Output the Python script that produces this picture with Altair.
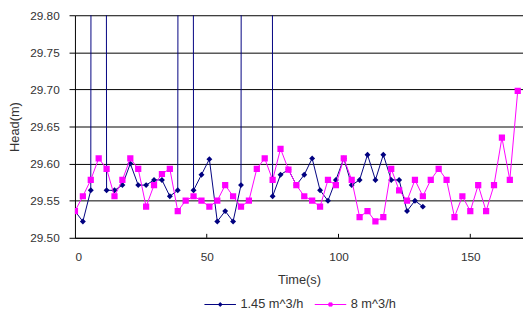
import altair as alt
import pandas as pd

# ---- data ----
series_names = ["1.45 m^3/h", "8 m^3/h"]
series_colors = ["#000080", "#FF00FF"]

# 1.45 m^3/h (navy diamonds); off-chart readings (spikes) given as large values
blue_t = [0, 3, 6, 9, 12, 15, 18, 21, 24, 27, 30, 33, 36, 39, 42, 45, 48, 51, 54,
          57, 60, 63, 66, 69, 72, 75, 78, 81, 84, 87, 90, 93, 96, 99, 102, 105,
          108, 111, 114, 117, 120, 123, 126, 129, 132]
blue_v = [29.536, 29.522, 29.564, 40.0, 29.564, 29.564, 29.571, 29.600, 29.571,
          29.571, 29.578, 29.578, 29.556, 29.564, 40.0, 29.564, 29.585, 29.606,
          29.522, 29.536, 29.522, 29.571, 40.0, 40.0, 40.0, 29.556, 29.585,
          29.592, 29.571, 29.585, 29.607, 29.564, 29.550, 29.578, 29.607, 29.571,
          29.578, 29.612, 29.578, 29.612, 29.578, 29.578, 29.536, 29.550, 29.542]

# 8 m^3/h (magenta squares)
pink_t = [0, 3, 6, 9, 12, 15, 18, 21, 24, 27, 30, 33, 36, 39, 42, 45, 48, 51, 54,
          57, 60, 63, 66, 69, 72, 75, 78, 81, 84, 87, 90, 93, 96, 99, 102, 105,
          108, 111, 114, 117, 120, 123, 126, 129, 132, 135, 138, 141, 144, 147,
          150, 153, 156, 159, 162, 165, 168]
pink_v = [29.536, 29.556, 29.578, 29.607, 29.593, 29.556, 29.578, 29.607, 29.593,
          29.542, 29.571, 29.586, 29.593, 29.536, 29.550, 29.556, 29.550, 29.542,
          29.550, 29.571, 29.556, 29.542, 29.550, 29.593, 29.607, 29.578, 29.620,
          29.592, 29.571, 29.556, 29.550, 29.542, 29.578, 29.571, 29.607, 29.578,
          29.528, 29.536, 29.522, 29.528, 29.593, 29.564, 29.550, 29.578, 29.556,
          29.578, 29.593, 29.578, 29.528, 29.556, 29.536, 29.571, 29.536, 29.571,
          29.635, 29.578, 29.698]

x_ticks = [0, 50, 100, 150]
y_ticks = [29.50, 29.55, 29.60, 29.65, 29.70, 29.75, 29.80]

W, H = 455, 226
FONT = "Liberation Sans"
TXT = "#333333"

blue_df = pd.DataFrame({"t": blue_t, "v": blue_v})
pink_df = pd.DataFrame({"t": pink_t, "v": pink_v})
tick_df = pd.DataFrame({"xt": x_ticks[1:]})
legend_df = pd.DataFrame({"series": series_names})

xscale = alt.Scale(domain=[0, 170], nice=False, zero=False)
yscale = alt.Scale(domain=[29.5, 29.8], nice=False, zero=False)

xenc = alt.X("t:Q", scale=xscale,
             axis=alt.Axis(values=x_ticks, tickCount=20, title="Time(s)", grid=False,
                           ticks=False, labelPadding=14, titleY=42,
                           titleBaseline="middle", domainColor="#000000"))
yenc = alt.Y("v:Q", scale=yscale,
             axis=alt.Axis(values=y_ticks, tickCount=20, format=".2f", title="Head(m)",
                           grid=True, gridColor="#000000", gridWidth=1, tickSize=6,
                           tickColor="#000000", labelPadding=10, labelOverlap=False,
                           titleX=-61, titleY=H / 2, titleAngle=270,
                           titleAlign="center", titleBaseline="middle",
                           domainColor="#000000"))

blue_line = alt.Chart(blue_df).mark_line(color=series_colors[0], strokeWidth=1,
                                         clip=True).encode(x=xenc, y=yenc)
blue_pts = alt.Chart(blue_df).mark_point(shape="diamond", filled=True, opacity=1,
                                         color=series_colors[0], size=36,
                                         clip=True).encode(x="t:Q", y="v:Q")
pink_line = alt.Chart(pink_df).mark_line(color=series_colors[1], strokeWidth=1,
                                         clip=True).encode(x="t:Q", y="v:Q")
pink_pts = alt.Chart(pink_df).mark_point(shape="square", filled=True, opacity=1,
                                         color=series_colors[1], size=40,
                                         clip=True).encode(x="t:Q", y="v:Q")

ticks = alt.Chart(tick_df).mark_rule(color="#000000", strokeWidth=1).encode(
    x=alt.X("xt:Q", scale=xscale), y=alt.value(H - 4), y2=alt.value(H))

diamond_path = "M-1,0H1M0,-0.12L0.12,0L0,0.12L-0.12,0Z"
square_path = "M-1,0H1M-0.1,-0.1H0.1V0.1H-0.1Z"
leg = alt.Legend(title=None, orient="none", legendX=131, legendY=277,
                 direction="horizontal", labelFont=FONT, labelFontSize=13,
                 labelColor=TXT, symbolSize=1024, symbolStrokeWidth=1,
                 labelOffset=4, columnPadding=9)
legend_layer = alt.Chart(legend_df).mark_point(filled=True, opacity=1, size=1024).encode(
    x=alt.value(0), y=alt.value(0),
    color=alt.Color("series:N", scale=alt.Scale(domain=series_names, range=series_colors),
                    legend=leg),
    stroke=alt.Stroke("series:N", scale=alt.Scale(domain=series_names, range=series_colors),
                      legend=leg),
    shape=alt.Shape("series:N", scale=alt.Scale(domain=series_names,
                                                range=[diamond_path, square_path]),
                    legend=leg),
).transform_filter("false")

chart = alt.layer(blue_line, blue_pts, pink_line, pink_pts, ticks, legend_layer).properties(
    width=W, height=H,
    autosize=alt.AutoSizeParams(type="none"),
    padding={"left": 68, "top": 5, "right": 0, "bottom": 73},
).configure_view(strokeWidth=0).configure_axis(
    labelFont=FONT, labelFontSize=12, labelColor=TXT,
    titleFont=FONT, titleFontSize=13, titleColor=TXT, titleFontWeight="normal",
)

chart.save("out.html", embed_options={"renderer": "svg", "actions": False})
